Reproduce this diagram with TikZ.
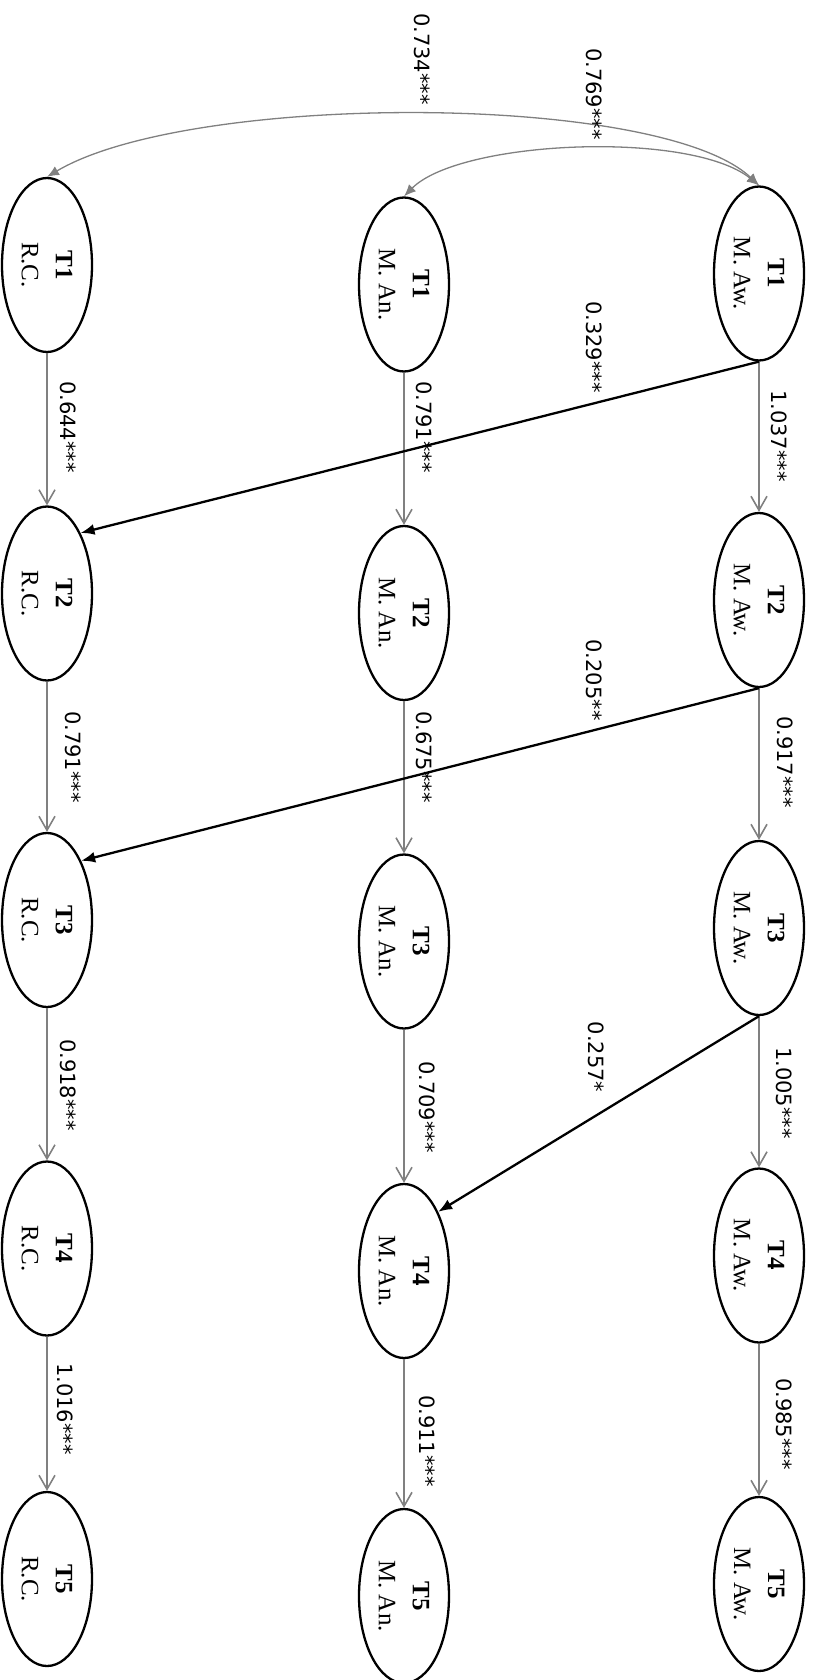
\documentclass[tikz,border=0pt]{standalone}
\usepackage{fontspec}
\setmainfont{Liberation Serif}
\newfontfamily\coeffont{DejaVu Sans}
\usetikzlibrary{arrows.meta,shapes.geometric}
\definecolor{pathgray}{RGB}{128,128,128}
\begin{document}
\begin{tikzpicture}[x=0.5pt,y=-0.5pt,
  construct/.style={draw, line width=1.15pt, ellipse, rotate=-90,
    minimum width=87pt, minimum height=45pt, inner sep=0pt, align=center,
    font=\fontsize{12.5}{17}\selectfont},
  stab/.style={draw=pathgray, line width=0.8pt, -{Straight Barb[length=7pt,width=8pt]}},
  cross/.style={draw=black, line width=1.15pt, -{Latex[length=7pt,width=5.5pt]}},
  corr/.style={draw=pathgray, line width=0.65pt,
    {Latex[length=6pt,width=5pt]}-{Latex[length=6pt,width=5pt]}},
  coef/.style={rotate=-90, inner sep=0pt, font=\coeffont\fontsize{10.5}{12}\selectfont}]
\useasboundingbox (0,0) rectangle (817,1680);

% R.C. column
\node[construct] (rc1) at (47,265)    {\textbf{T1}\\R.C.};
\node[construct] (rc2) at (47,593.5)  {\textbf{T2}\\R.C.};
\node[construct] (rc3) at (47,920)    {\textbf{T3}\\R.C.};
\node[construct] (rc4) at (47,1248.5) {\textbf{T4}\\R.C.};
\node[construct] (rc5) at (47,1579)   {\textbf{T5}\\R.C.};

% M. An. column
\node[construct] (an1) at (404,284.5) {\textbf{T1}\\M. An.};
\node[construct] (an2) at (404,613)   {\textbf{T2}\\M. An.};
\node[construct] (an3) at (404,941.5) {\textbf{T3}\\M. An.};
\node[construct] (an4) at (404,1271)  {\textbf{T4}\\M. An.};
\node[construct] (an5) at (404,1596)  {\textbf{T5}\\M. An.};

% M. Aw. column
\node[construct] (aw1) at (759,273.5)  {\textbf{T1}\\M. Aw.};
\node[construct] (aw2) at (759,600)    {\textbf{T2}\\M. Aw.};
\node[construct] (aw3) at (759,928)    {\textbf{T3}\\M. Aw.};
\node[construct] (aw4) at (759,1255.5) {\textbf{T4}\\M. Aw.};
\node[construct] (aw5) at (759,1584)   {\textbf{T5}\\M. Aw.};

% stability paths
\draw[stab] (rc1.east) -- (rc2.west);
\draw[stab] (rc2.east) -- (rc3.west);
\draw[stab] (rc3.east) -- (rc4.west);
\draw[stab] (rc4.east) -- (rc5.west);
\draw[stab] (an1.east) -- (an2.west);
\draw[stab] (an2.east) -- (an3.west);
\draw[stab] (an3.east) -- (an4.west);
\draw[stab] (an4.east) -- (an5.west);
\draw[stab] (aw1.east) -- (aw2.west);
\draw[stab] (aw2.east) -- (aw3.west);
\draw[stab] (aw3.east) -- (aw4.west);
\draw[stab] (aw4.east) -- (aw5.west);

% cross-lagged paths
\draw[cross] (aw1.east) -- (rc2.151);
\draw[cross] (aw2.east) -- (rc3.150);
\draw[cross] (aw3.east) -- (an4.150);

% T1 correlations
\draw[corr] (rc1.west) .. controls (190,92) and (660,92) .. (aw1.west);
\draw[corr] (an1.west) .. controls (460,140) and (690,130) .. (aw1.west);

% coefficients
\node[coef] (c01) at (422,59)   {0.734***};
\node[coef] (c02) at (594,94)   {0.769***};
\node[coef] (c03) at (594,347)  {0.329***};
\node[coef] (c04) at (779,436)  {1.037***};
\node[coef] (c05) at (424,427)  {0.791***};
\node[coef] (c06) at (68,427)   {0.644***};
\node[coef] (c07) at (594,680)  {0.205**};
\node[coef] (c08) at (785,762)  {0.917***};
\node[coef] (c09) at (424,757)  {0.675***};
\node[coef] (c10) at (73,757)   {0.791***};
\node[coef] (c11) at (596,1057) {0.257*};
\node[coef] (c12) at (784,1093) {1.005***};
\node[coef] (c13) at (68,1085)  {0.918***};
\node[coef] (c14) at (427,1107) {0.709***};
\node[coef] (c15) at (65,1409)  {1.016***};
\node[coef] (c16) at (427,1441) {0.911***};
\node[coef] (c17) at (784,1424) {0.985***};
\end{tikzpicture}
\end{document}
